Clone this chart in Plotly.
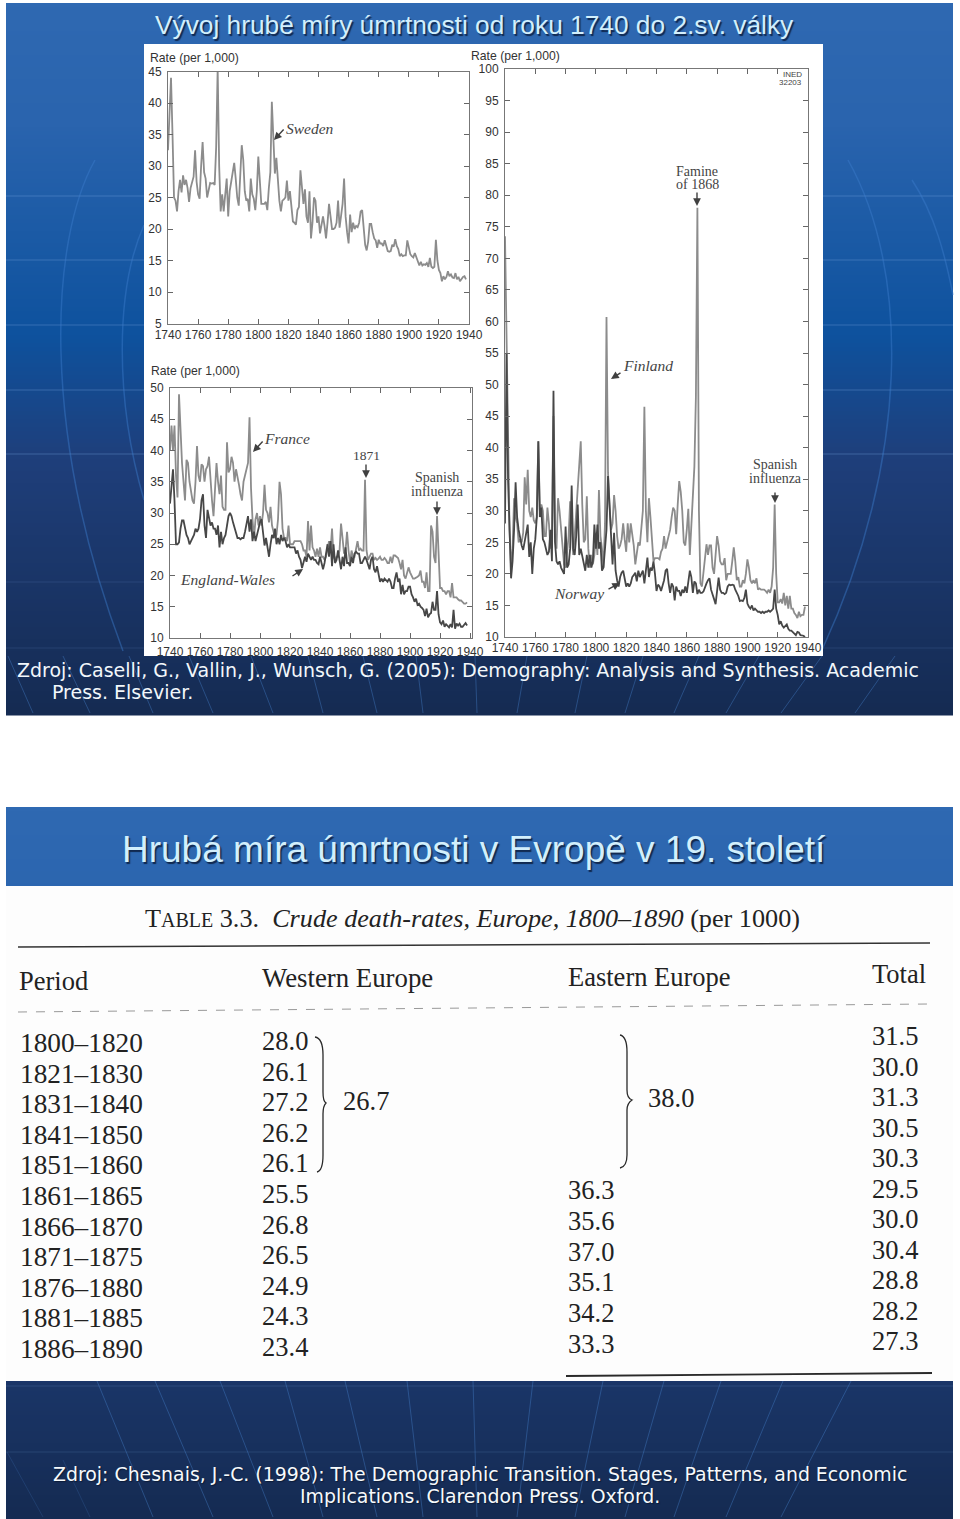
"""
Two slides on crude death rates: historical line panels and a table of rates, 1800-1890.
"""
import plotly.graph_objects as go

# ── Data (one row per decade, from 1740) ──
sweden = [
    32.5, 38, 44, 35, 25, 24.5, 22.8, 26, 27.8, 25.8,
    28.5, 27, 27.8, 26.5, 24.3, 26.5, 27.5, 28.3, 32.5, 27.5,
    25.5, 24.8, 30, 33.8, 29, 28, 25, 26, 27.3, 27.2,
    27.3, 27, 33, 45.5, 30, 22.8, 25.5, 22.8, 25, 28,
    22, 26, 27.5, 29, 30.5, 28, 25, 23.7, 28, 33.3,
    31, 26, 24.5, 24.8, 22.8, 28, 25.5, 24.8, 23, 26,
    31.5, 27, 24, 24, 24, 24.3, 23, 26.5, 29, 40.2,
    33, 28.8, 31.3, 27, 24.5, 22.8, 24.5, 24.7, 25, 27.7,
    24.5, 26, 23, 21.2, 21, 20.7, 23, 23.5, 29.3, 26,
    24, 26.3, 22, 21, 26, 18.5, 21, 25, 24.5, 21,
    22, 19.3, 21, 22, 20.5, 18.5, 21, 24, 22, 20,
    20, 20.2, 21, 24.5, 20.2, 22, 24, 28, 22, 19.5,
    17.7, 22.3, 19.5, 21, 20, 20.5, 20.3, 21, 22.8, 23,
    19.8, 17.5, 16.6, 18, 20.8, 20.8, 19.5, 18.5, 18.2, 17,
    18.3, 17.7, 17.7, 17.3, 18.2, 17.2, 16.5, 16.4, 16.5, 17.5,
    17.2, 18.4, 17.3, 16.8, 15.7, 16, 15.7, 15.8, 15.8, 18.2,
    17, 16, 15.7, 15.5, 16.2, 15.5, 14.8, 14.2, 14.8, 14.2,
    14.4, 14.3, 14.6, 14, 15.4, 14, 13.8, 14, 18.3, 15,
    13.5, 13, 11.7, 12.5, 12, 12.4, 13.3, 12.5, 12.8, 12.3,
    12.2, 13, 12, 12.4, 11.7, 12, 12.4, 12.5, 12,
]
france = [
    40, 44, 40, 44, 36, 32.5, 49, 42, 38, 35,
    32, 38.5, 38, 35, 33, 32, 31.5, 35, 40.7, 36,
    35, 37.8, 37.5, 35, 37, 37.5, 39, 35, 32, 29.5,
    33, 38, 35, 33, 36, 31, 30.5, 30.5, 41.3, 36.5,
    37, 39, 38, 35, 37, 36, 34.5, 33, 32, 35,
    36, 37, 38, 45.3, 34, 29, 26, 29, 30, 28,
    29.5, 28, 30, 34.5, 30.5, 30, 28.5, 31, 28, 27,
    26, 26.5, 29, 35, 33, 27.5, 26, 26, 25.5, 28,
    25, 25, 25, 25.5, 25.5, 25.5, 25.5, 25.5, 25, 24,
    24, 23, 28.7, 24, 28, 24.5, 24, 23, 24.3, 23,
    24.5, 23, 23, 22.5, 23, 24, 25.5, 24, 27.5, 23,
    22.5, 23, 23, 24, 28.3, 26, 23.5, 24, 27, 24,
    22, 24, 23, 23, 24, 25.5, 24, 24.3, 24, 24,
    35.3, 24, 22.5, 23, 23.5, 23.5, 22.5, 22.8, 22.5, 22.7,
    23, 22.5, 22.5, 22.8, 22.5, 22, 22, 23, 22, 23.2,
    23.2, 23, 22.8, 22, 21, 22.5, 20, 19.5, 20.5, 21.3,
    20.5, 20, 19.5, 19.5, 19.6, 19.8, 20, 20.8, 19, 19,
    18, 20.5, 17.5, 17.5, 28, 27, 23, 22, 29.5, 22,
    18, 18, 17.5, 17.5, 17, 17.5, 17.5, 16.5, 18.8, 16.5,
    16.5, 16.5, 16.2, 16, 16, 15.8, 15.5, 15.5, 15.7,
]
england_wales = [
    31.5, 35, 37, 32, 25, 25, 25.3, 27.5, 28.8, 28.8,
    27.5, 26.5, 26, 25, 25.5, 26, 26.5, 27.5, 27, 27.5,
    29, 32, 33, 28, 26, 30.5, 29.5, 28, 28.5, 27.5,
    27.5, 26.5, 28, 24.5, 27, 25, 26, 26.5, 28, 29.5,
    30, 29.5, 28.5, 27.5, 27, 26, 26, 25.8, 26, 26,
    27, 28, 29.5, 27, 29, 25.5, 27, 25.5, 26.5, 28,
    28.5, 29, 27, 24.8, 26, 24, 23, 25, 26.5, 26,
    27.5, 25, 26, 25, 26.5, 25.5, 26, 25.5, 24.5, 25,
    24.5, 24.5, 24.5, 24.5, 23.5, 24, 23, 22.5, 21.2, 22,
    23, 22.2, 23.5, 23, 22.5, 23, 22.5, 22.5, 22, 21.8,
    23, 22, 21, 22, 24, 25, 23, 25.5, 21.5, 25,
    22, 22.5, 24, 22.5, 21, 23, 21.5, 24.5, 22, 22,
    21.5, 23, 22, 23.5, 23.8, 23.5, 23.5, 22, 22, 22.5,
    23, 22.5, 21.5, 21, 22.5, 23, 21, 20.5, 21.5, 20.5,
    19, 19.5, 19, 19.5, 19.2, 19, 19.5, 19, 18, 18,
    19.5, 20.5, 19, 19.5, 17, 18.5, 17, 17.5, 17.5, 18.2,
    18.2, 17, 16.5, 15.8, 16.3, 15.3, 15.5, 15, 14.8, 14.5,
    13.5, 14.7, 13.3, 13.8, 14, 15.8, 14.5, 14.5, 17.5, 13.8,
    12.5, 12.2, 12.8, 11.8, 12.2, 12, 11.7, 12.2, 11.7, 14.5,
    11.5, 12.3, 12, 12.3, 11.8, 11.8, 12.2, 12.4, 12,
]
finland = [
    73.5, 60, 40, 27, 21, 24, 32, 29, 28, 25,
    25.5, 25, 26.5, 35.3, 31, 36.5, 30, 29, 30.5, 28.5,
    28, 29, 41, 30, 31, 30, 26, 26, 30.5, 28,
    24, 26, 45, 26, 24, 32, 30, 27, 25, 21.5,
    21, 24, 26, 31.5, 27, 23, 26, 30, 33, 37.5,
    41, 31, 25, 25.5, 32.3, 24, 21, 23, 21.5, 23,
    26.5, 23, 33.3, 26, 24, 21, 28, 60.7, 36, 31,
    27, 28, 32.5, 30, 26, 24, 24.5, 25.5, 28, 25.5,
    23.5, 28, 25, 28, 26, 24.5, 21.5, 23, 25, 24.5,
    27, 30, 46.5, 30, 25, 32, 29, 24.5, 22, 22.5,
    22.5, 22.5, 22.3, 23.5, 24, 26, 24, 25, 25.5, 27,
    29, 30.5, 30, 26.3, 31, 34.7, 33, 30, 25, 24.5,
    27, 30.3, 23, 28, 33, 37, 48, 78, 30, 18.5,
    18, 20, 23, 24.7, 23, 24.5, 24.5, 21, 20, 24,
    26, 24.5, 22, 21.5, 21.5, 22.5, 19, 20, 20, 20,
    22, 24.2, 22, 19, 19.5, 18, 18, 19, 18.5, 20,
    22.3, 21, 19, 18.5, 19, 18.5, 19.3, 17.5, 17.7, 17.5,
    17.5, 17.5, 17.3, 17, 17.5, 17, 18, 21, 31, 20,
    15.5, 15.5, 16, 15.3, 17, 15, 16.5, 14.5, 16.5, 14.5,
    14.5, 13.8, 13.5, 13, 14, 13.3, 13.5, 13.5, 14.8,
]
norway = [
    28, 55, 35, 25, 19.3, 22, 27, 34.5, 29, 27,
    25.5, 24.5, 23.8, 25, 26, 27.8, 22.7, 25, 20, 24,
    25.5, 29, 41, 29, 30.5, 25.5, 25, 24, 23, 23.5,
    27, 22, 49, 25, 22, 21.5, 22, 21, 20.5, 20,
    27.5, 21, 21.5, 24, 34, 24, 23, 26, 31, 23,
    24, 23, 21.5, 20.5, 23, 21, 23, 21, 22, 27.8,
    24, 27.8, 24, 25, 20.5, 21, 24, 27, 35.5, 31,
    25, 21.5, 26.5, 20.5, 19, 18, 19.5, 20.2, 20.5, 19,
    18, 18.5, 18, 18.5, 19.5, 19.8, 20.2, 18.8, 20.5, 19.5,
    20, 20.5, 18.5, 20.5, 22.6, 19.5, 21, 20.5, 22, 20,
    17.3, 18.3, 18, 17.3, 18, 19, 20.5, 20.8, 18.5, 17,
    18.5, 18, 15.8, 18, 17.3, 17.3, 16.5, 17.5, 17, 18,
    17, 19, 20.5, 19.5, 17, 18.8, 18.5, 16.8, 17.5, 17,
    17, 17.2, 18, 18.5, 19, 19.3, 17.5, 16.5, 16, 15.2,
    17.5, 19.4, 17.5, 17, 17, 16.8, 17, 18, 18.3, 18.2,
    18.3, 18.2, 17.5, 17, 16.5, 15.7, 15.8, 15.7, 16.2, 17.5,
    15.3, 14.8, 14.5, 15, 14.2, 14.5, 14.3, 14, 14, 13.8,
    14, 13.8, 14, 14, 14.2, 14, 14.2, 14.5, 17.5, 14.5,
    13.5, 12, 12.5, 11.8, 11.5, 11.7, 12, 11.3, 11, 11,
    10.8, 10.5, 10.3, 10.8, 10.7, 10.3, 10.3, 10.2, 10,
]

periods = ["1800–1820", "1821–1830", "1831–1840", "1841–1850", "1851–1860", "1861–1865",
           "1866–1870", "1871–1875", "1876–1880", "1881–1885", "1886–1890"]
western = ["28.0", "26.1", "27.2", "26.2", "26.1", "25.5", "26.8", "26.5", "24.9", "24.3", "23.4"]
eastern = ["36.3", "35.6", "37.0", "35.1", "34.2", "33.3"]
total = ["31.5", "30.0", "31.3", "30.5", "30.3", "29.5", "30.0", "30.4", "28.8", "28.2", "27.3"]

W, H = 960, 1519
GREY = "#8c8c8c"
DARK = "#474747"
TXT = "#333333"
NOTE = "#444444"
INK = "#222222"
SANS = "Liberation Sans"
SERIF = "Liberation Serif"


def fx(x):
    return x / W


def fy(y):
    return 1 - y / H


def years(values):
    return list(range(1740, 1740 + len(values)))


def rect(x0, y0, x1, y1, color):
    return dict(type="rect", xref="paper", yref="paper", layer="below",
                x0=fx(x0), x1=fx(x1), y0=fy(y1), y1=fy(y0),
                fillcolor=color, line_width=0)


def seg(x0, y0, x1, y1, color, width=1, dash="solid"):
    return dict(type="line", xref="paper", yref="paper", layer="below",
                x0=fx(x0), x1=fx(x1), y0=fy(y0), y1=fy(y1),
                line=dict(color=color, width=width, dash=dash))


def curve(points, color, width=1.5, layer="below"):
    # points: start, then triples of cubic bezier control points
    coords = [f"{fx(x):.5f},{fy(y):.5f}" for x, y in points]
    path = "M " + coords[0]
    for k in range(1, len(coords), 3):
        path += " C " + " ".join(coords[k:k + 3])
    return dict(type="path", xref="paper", yref="paper", layer=layer, path=path,
                line=dict(color=color, width=width))


def label(x, y, text, size=12, color=TXT, family=SANS, align="center", shadow=None):
    font = dict(size=size, color=color, family=family)
    if shadow:
        font["shadow"] = shadow
    # annotations carry about 2px of padding, take it back for left aligned text
    x = x - 2 if align == "left" else x
    return dict(xref="x4", yref="y4", x=x, y=y, text=text, showarrow=False,
                xanchor=align, yanchor="middle", align=align, font=font)


def arrow(x0, y0, x1, y1):
    return dict(xref="x4", yref="y4", x=x1, y=y1, ax=x0 - x1, ay=y0 - y1,
                text="", showarrow=True, arrowhead=2, arrowsize=1.1, arrowwidth=1.4,
                arrowcolor="#404040")


def axis(d0, d1, anchor, **kw):
    # the default template turns automargin on, and that shrinks the whole page
    return dict(domain=[d0, d1], anchor=anchor, automargin=False, showgrid=False, zeroline=False,
                showline=True, linecolor="#777777", linewidth=1, mirror="ticks",
                ticks="inside", ticklen=5, tickcolor="#666666",
                tickfont=dict(size=12, color=TXT, family=SANS), **kw)


def gradient_color(y):
    # slide background, y measured from the top of the slide
    stops = [(0, (47, 105, 178)), (120, (42, 100, 174)), (330, (14, 82, 158)),
             (454, (31, 63, 123)), (710, (21, 43, 82))]
    for (y0, c0), (y1, c1) in zip(stops, stops[1:]):
        if y <= y1:
            t = (y - y0) / (y1 - y0)
            return "rgb(%d,%d,%d)" % tuple(a + (b - a) * t for a, b in zip(c0, c1))
    return "rgb(21,43,82)"


shapes = []

# ── Slide backgrounds ──
for top in (3, 807):
    for k in range(0, 710, 4):
        shapes.append(rect(6, top + k, 953, top + k + 4.5, gradient_color(k)))

# horizontal bands
for k in (193, 257, 322, 387, 451):
    shapes.append(seg(6, 3 + k, 953, 3 + k, "rgba(120,170,225,0.35)"))
for k in (579, 645):
    shapes.append(seg(6, 3 + k, 953, 3 + k, "rgba(120,170,225,0.15)"))
    shapes.append(seg(6, 807 + k, 953, 807 + k, "rgba(120,170,225,0.18)"))

# arcs behind the first panel
ARC = "rgba(60,125,205,0.45)"
shapes.append(curve([(95, 160), (50, 240), (40, 430), (123, 651)], ARC))
shapes.append(curve([(144, 225), (115, 290), (115, 400), (144, 500)], ARC))
shapes.append(curve([(848, 160), (910, 270), (910, 460), (822, 650)], ARC))
shapes.append(curve([(912, 180), (935, 215), (945, 255), (953, 295)], ARC))

# fan lines along the bottom of each slide
FAN = "rgba(70,130,205,0.4)"
for x0, x1 in [(8, 33), (63, 90), (129, 153), (189, 213), (251, 273), (308, 323), (363, 377),
               (416, 423), (475, 477), (527, 517), (587, 575), (643, 625), (699, 674),
               (759, 726), (822, 781), (895, 855)]:
    shapes.append(seg(x0, 656, x1, 713, FAN))
for x0, x1 in [(97, 153), (155, 213), (220, 273), (285, 323), (345, 377), (407, 423), (473, 477),
               (533, 517), (603, 575), (664, 625), (721, 674), (783, 726), (851, 781)]:
    shapes.append(seg(x0, 1381, x1, 1517, FAN))
shapes.append(seg(7, 1452, 43, 1517, "rgba(70,130,205,0.2)"))
shapes.append(seg(63, 1460, 90, 1517, "rgba(70,130,205,0.2)"))

# white image areas
shapes.append(rect(144, 44, 823, 656, "#ffffff"))
shapes.append(rect(6, 886, 953, 1381, "#fdfdfd"))

# ── Table rules and braces ──
shapes.append(seg(18, 947, 930, 943, "#333333", 1.5))
shapes.append(seg(18, 1012, 930, 1004, "#999999", 1, "dash"))
shapes.append(seg(566, 1376, 932, 1373, "#2a2a2a", 1.8))
BRACE = "#2a2a2a"
shapes.append(curve([(315, 1037), (321, 1038), (323, 1044), (323, 1055),
                     (323, 1075), (323, 1085), (323, 1092),
                     (323, 1098), (324, 1102), (326, 1103),
                     (324, 1105), (323, 1108), (323, 1114),
                     (323, 1130), (323, 1145), (323, 1155),
                     (323, 1165), (321, 1171), (317, 1172)], BRACE, 1.3))
shapes.append(curve([(620, 1035), (625, 1036), (627, 1042), (627, 1052),
                     (627, 1070), (627, 1080), (627, 1090),
                     (627, 1095), (629, 1099), (632, 1100),
                     (629, 1102), (627, 1105), (627, 1110),
                     (627, 1130), (627, 1140), (627, 1155),
                     (627, 1163), (625, 1167), (620, 1168)], BRACE, 1.3))

# ── Text ──
TITLE = "#d2effc"
SHADOW = "1.5px 1.5px 1px #10284f"
SRC_SHADOW = "1px 1px 1px #0c1c38"
notes = [
    label(474, 25, "Vývoj hrubé míry úmrtnosti od roku 1740 do 2.sv. války", 26.3, TITLE, SANS, shadow=SHADOW),
    label(474, 849, "Hrubá míra úmrtnosti v Evropě v 19. století", 37, TITLE, SANS, shadow=SHADOW),
    label(17, 670, "Zdroj: Caselli, G., Vallin, J., Wunsch, G. (2005): Demography: Analysis and Synthesis. Academic",
          19, "#f2f7fb", "DejaVu Sans", "left"),
    label(52, 692, "Press. Elsevier.", 19, "#f2f7fb", "DejaVu Sans", "left"),
    label(480, 1474, "Zdroj: Chesnais, J.-C. (1998): The Demographic Transition. Stages, Patterns, and Economic",
          18.9, "#f7fafc", "DejaVu Sans", shadow=SRC_SHADOW),
    label(480, 1496, "Implications. Clarendon Press. Oxford.", 18.9, "#f7fafc", "DejaVu Sans", shadow=SRC_SHADOW),

    # panel labels
    label(150, 58, "Rate (per 1,000)", 12.2, TXT, SANS, "left"),
    label(151, 371, "Rate (per 1,000)", 12.2, TXT, SANS, "left"),
    label(471, 56, "Rate (per 1,000)", 12.2, TXT, SANS, "left"),
    label(310, 128, "<i>Sweden</i>", 15.5, NOTE, SERIF),
    label(287, 438, "<i>France</i>", 15.5, NOTE, SERIF),
    label(227, 579, "<i>England-Wales</i>", 15.5, NOTE, SERIF),
    label(366, 455, "1871", 13.5, NOTE, SERIF),
    label(437, 477, "Spanish", 14, NOTE, SERIF),
    label(437, 491, "influenza", 14, NOTE, SERIF),
    label(648, 365, "<i>Finland</i>", 15.5, NOTE, SERIF),
    label(579, 593, "<i>Norway</i>", 15.5, NOTE, SERIF),
    label(697, 171, "Famine", 14, NOTE, SERIF),
    label(697, 184, "of 1868", 14, NOTE, SERIF),
    label(775, 464, "Spanish", 14, NOTE, SERIF),
    label(775, 478, "influenza", 14, NOTE, SERIF),
    label(804, 74, "INED", 8, NOTE, SANS, "right"),
    label(804, 82, "32203", 8, NOTE, SANS, "right"),
    arrow(285, 128, 274, 140),
    arrow(264, 440, 253, 452),
    arrow(291, 577, 303, 569),
    arrow(366, 463, 366, 478),
    arrow(437, 500, 437, 515),
    arrow(622, 372, 611, 379),
    arrow(607, 590, 620, 583),
    arrow(697, 191, 697, 206),
    arrow(775, 491, 775, 503),

    # table heads
    label(145, 918, 'T<span style="font-size:20px">ABLE</span> 3.3.  <i>Crude death-rates, Europe, 1800–1890</i> (per 1000)',
          26.2, INK, SERIF, "left"),
    label(19, 981, "Period", 26.5, INK, SERIF, "left"),
    label(262, 978, "Western Europe", 26.8, INK, SERIF, "left"),
    label(568, 977, "Eastern Europe", 26.5, INK, SERIF, "left"),
    label(872, 974, "Total", 26.5, INK, SERIF, "left"),
    label(343, 1101, "26.7", 26.5, INK, SERIF, "left"),
    label(648, 1098, "38.0", 26.5, INK, SERIF, "left"),
]
for i, text in enumerate(periods):
    notes.append(label(20, 1043 + i * 30.6, text, 27.3, INK, SERIF, "left"))
for i, text in enumerate(western):
    notes.append(label(262, 1041 + i * 30.6, text, 26.5, INK, SERIF, "left"))
for i, text in enumerate(eastern):
    notes.append(label(568, 1190 + i * 30.8, text, 26.5, INK, SERIF, "left"))
for i, text in enumerate(total):
    notes.append(label(872, 1036 + i * 30.5, text, 26.5, INK, SERIF, "left"))

fig = go.Figure()


def add_line(values, color, axis_no):
    suffix = "" if axis_no == 1 else str(axis_no)
    fig.add_trace(go.Scatter(x=years(values), y=values, mode="lines", xaxis="x" + suffix, yaxis="y" + suffix,
                             line=dict(color=color, width=1.8), showlegend=False, hoverinfo="skip"))


add_line(sweden, GREY, 1)
add_line(france, GREY, 2)
add_line(england_wales, DARK, 2)
add_line(finland, GREY, 3)
add_line(norway, DARK, 3)
# empty trace that keeps the hidden page axis alive
fig.add_trace(go.Scatter(x=[], y=[], xaxis="x4", yaxis="y4", showlegend=False, hoverinfo="skip"))

fig.update_layout(
    width=W, height=H,
    margin=dict(l=0, r=0, t=0, b=0),
    paper_bgcolor="#ffffff", plot_bgcolor="rgba(0,0,0,0)",
    showlegend=False,
    shapes=shapes, annotations=notes,
    # Sweden
    xaxis=axis(fx(168), fx(469), "y", range=[1740, 1940], dtick=20, tick0=1740),
    yaxis=axis(fy(323.5), fy(71.5), "x", range=[5, 45], dtick=5, ticklabelstandoff=3),
    # France, England-Wales
    xaxis2=axis(fx(170), fx(472), "y2", range=[1740, 1941.3], dtick=20, tick0=1740, ticklabelstandoff=3),
    yaxis2=axis(fy(638), fy(388), "x2", range=[10, 50], dtick=5, ticklabelstandoff=3),
    # Finland, Norway
    xaxis3=axis(fx(505), fx(808), "y3", range=[1740, 1940], dtick=20, tick0=1740),
    yaxis3=axis(fy(637), fy(69), "x3", range=[10, 100], dtick=5, ticklabelstandoff=3),
    # page axis in pixels, for text only
    xaxis4=dict(domain=[0, 1], range=[0, W], visible=False, anchor="y4", automargin=False),
    yaxis4=dict(domain=[0, 1], range=[H, 0], visible=False, anchor="x4", automargin=False),
)

fig.write_html("out.html", config=dict(displayModeBar=False),
               post_script="document.body.style.margin='0';")
